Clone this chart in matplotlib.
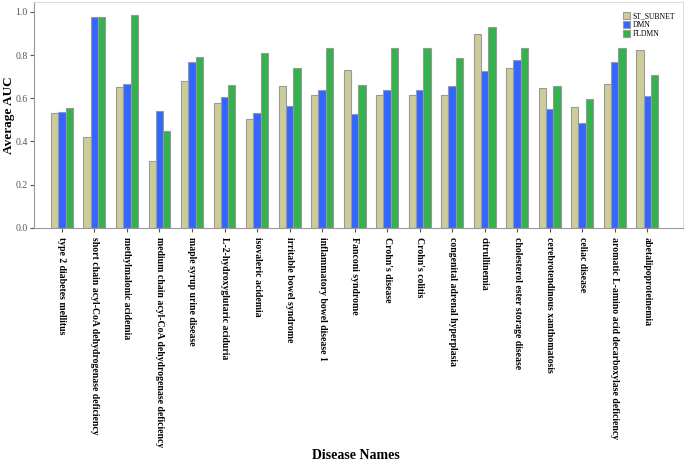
import numpy as np
import matplotlib.pyplot as plt

diseases = [
    "type 2 diabetes mellitus",
    "short chain acyl-CoA dehydrogenase deficiency",
    "methylmalonic acidemia",
    "medium chain acyl-CoA dehydrogenase deficiency",
    "maple syrup urine disease",
    "L-2-hydroxyglutaric aciduria",
    "isovaleric acidemia",
    "irritable bowel syndrome",
    "inflammatory bowel disease 1",
    "Fanconi syndrome",
    "Crohn's disease",
    "Crohn's colitis",
    "congenital adrenal hyperplasia",
    "citrullinemia",
    "cholesterol ester storage disease",
    "cerebrotendinous xanthomatosis",
    "celiac disease",
    "aromatic L-amino acid decarboxylase deficiency",
    "abetalipoproteinemia",
]

st_subnet = [0.531, 0.422, 0.652, 0.311, 0.678, 0.580, 0.506, 0.658, 0.616, 0.731,
             0.616, 0.616, 0.616, 0.895, 0.740, 0.647, 0.559, 0.664, 0.825]
dmn = [0.536, 0.978, 0.664, 0.539, 0.768, 0.605, 0.534, 0.565, 0.636, 0.528,
       0.636, 0.636, 0.655, 0.727, 0.779, 0.551, 0.485, 0.766, 0.610]
fldmn = [0.554, 0.978, 0.986, 0.450, 0.791, 0.661, 0.810, 0.740, 0.833, 0.662,
         0.833, 0.833, 0.786, 0.929, 0.831, 0.658, 0.596, 0.834, 0.708]

plt.rcParams['font.family'] = ['Liberation Serif', 'DejaVu Serif']

fig = plt.figure(figsize=(6.85, 4.63), dpi=100)
ax = fig.add_axes([0.0496, 0.5076, 0.9474, 0.488])

x = np.arange(len(diseases))
w = 0.225
edge = '#999999'
ax.bar(x - w, st_subnet, w, color='#cccc99', edgecolor=edge, linewidth=0.8, label='ST_SUBNET')
ax.bar(x, dmn, w, color='#3366ff', edgecolor=edge, linewidth=0.8, label='DMN')
ax.bar(x + w, fldmn, w, color='#33b24d', edgecolor=edge, linewidth=0.8, label='FLDMN')

ax.set_xlim(-0.86, 19.1)
ax.set_ylim(0, 1.045)
ax.set_yticks([0.0, 0.2, 0.4, 0.6, 0.8, 1.0])
ax.set_yticklabels(['0.0', '0.2', '0.4', '0.6', '0.8', '1.0'], fontsize=7, color='#555555')
ax.set_xticks(x)
ax.set_xticklabels(diseases, rotation=270, fontsize=7, fontweight='bold', va='top', ha='center')
ax.tick_params(axis='both', length=3, color='#555555', width=0.8)
ax.tick_params(axis='y', pad=1.5)

for s in ['left', 'bottom']:
    ax.spines[s].set_color('#999999')
for s in ['top', 'right']:
    ax.spines[s].set_color('#dddddd')

ax.set_ylabel('Average AUC', fontsize=9.5, fontweight='bold')
ax.yaxis.set_label_coords(-0.029, 0.5)
fig.text(0.52, 0.003, 'Disease Names', fontsize=10, fontweight='bold', ha='center', va='bottom')

ax.legend(loc='upper right', bbox_to_anchor=(0.995, 0.975), frameon=False, fontsize=5.5,
          handlelength=1.0, handleheight=1.0, handletextpad=0.3, labelspacing=0.1,
          borderaxespad=0.2)

plt.savefig('out.png', dpi=100)
